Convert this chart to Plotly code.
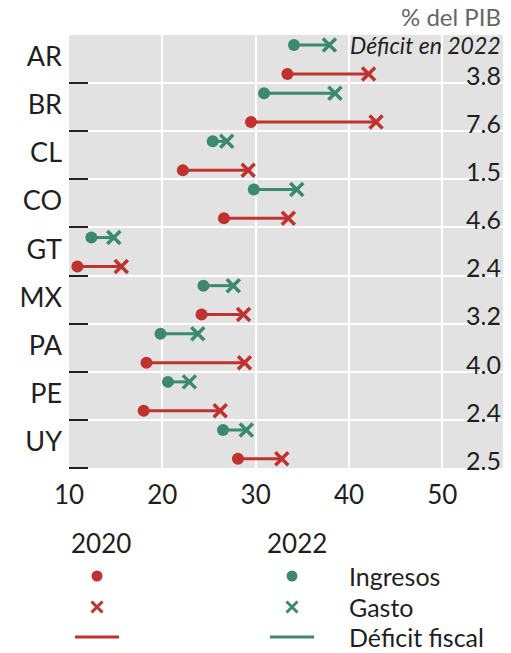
import plotly.graph_objects as go

countries = ["AR", "BR", "CL", "CO", "GT", "MX", "PA", "PE", "UY"]
ing_2022 = [34.1, 30.9, 25.4, 29.8, 12.4, 24.4, 19.8, 20.6, 26.5]
gas_2022 = [37.9, 38.5, 26.9, 34.4, 14.8, 27.6, 23.8, 22.9, 29.0]
ing_2020 = [33.4, 29.5, 22.2, 26.6, 10.9, 24.2, 18.3, 18.0, 28.1]
gas_2020 = [42.1, 42.9, 29.2, 33.5, 15.6, 28.7, 28.8, 26.2, 32.8]
deficit_2022 = ["3.8", "7.6", "1.5", "4.6", "2.4", "3.2", "4.0", "2.4", "2.5"]
x_ticks = [10, 20, 30, 40, 50]

RED = "#c0322f"
GREEN = "#3b8a6e"
TEXT = "#1f1f1f"
FONT = "Lato"

W, H = 511, 653
ML, MR, MT, MB = 69, 8, 35, 5
PH = H - MT - MB
main_bottom_px = 468
d_main = (H - MB - main_bottom_px) / PH

OFF_G, OFF_R, OFF_LBL = 0.21, 0.81, 0.45
n = len(countries)
y_g = [i + OFF_G for i in range(n)]
y_r = [i + OFF_R for i in range(n)]


def seg(a, b, ys):
    xs, yy = [], []
    for x0, x1, y in zip(a, b, ys):
        xs += [x0, x1, None]
        yy += [y, y, None]
    return xs, yy


fig = go.Figure()
for a, b, ys, col in [(ing_2022, gas_2022, y_g, GREEN), (ing_2020, gas_2020, y_r, RED)]:
    xs, yy = seg(a, b, ys)
    fig.add_trace(go.Scatter(x=xs, y=yy, mode="lines", line=dict(color=col, width=3),
                             showlegend=False, hoverinfo="skip"))
    fig.add_trace(go.Scatter(x=a, y=ys, mode="markers",
                             marker=dict(symbol="circle", size=12, color=col), showlegend=False))
    fig.add_trace(go.Scatter(x=b, y=ys, mode="markers",
                             marker=dict(symbol="x-thin", size=13, color=col,
                                         line=dict(color=col, width=3.5)), showlegend=False))

# legend block on a hidden pixel-space axis
leg_rows = [576, 607, 637]
leg_cols = [97, 292]
leg_colors = [RED, GREEN]
for cx, col in zip(leg_cols, leg_colors):
    fig.add_trace(go.Scatter(x=[cx], y=[leg_rows[0]], xaxis="x2", yaxis="y2", mode="markers",
                             marker=dict(symbol="circle", size=11, color=col), showlegend=False))
    fig.add_trace(go.Scatter(x=[cx], y=[leg_rows[1]], xaxis="x2", yaxis="y2", mode="markers",
                             marker=dict(symbol="x-thin", size=11, color=col,
                                         line=dict(color=col, width=3)), showlegend=False))
    fig.add_trace(go.Scatter(x=[cx - 22, cx + 22], y=[leg_rows[2]] * 2, xaxis="x2", yaxis="y2",
                             mode="lines", line=dict(color=col, width=3), showlegend=False))

annotations = []
for i, v in enumerate(deficit_2022):
    annotations.append(dict(x=1.0, xref="paper", y=y_r[i] + 0.02, yref="y", text=v, showarrow=False,
                            xanchor="right", yanchor="middle",
                            font=dict(family=FONT, size=25, color=TEXT)))
annotations.append(dict(x=1.0, xref="paper", y=y_g[0], yref="y", text="<i>Déficit en 2022</i>",
                        showarrow=False, xanchor="right", yanchor="middle",
                        font=dict(family=FONT, size=23, color=TEXT)))
annotations.append(dict(x=1.0, xref="paper", y=(H - MB - 17) / PH, yref="paper", text="% del PIB",
                        showarrow=False, xanchor="right", yanchor="middle",
                        font=dict(family=FONT, size=24, color="#666666")))
for cx, t in zip([101, 297], ["2020", "2022"]):
    annotations.append(dict(x=cx, xref="x2", y=543, yref="y2", text=t, showarrow=False,
                            xanchor="center", yanchor="middle",
                            font=dict(family=FONT, size=26, color=TEXT)))
for ry, t in zip(leg_rows, ["Ingresos", "Gasto", "Déficit fiscal"]):
    annotations.append(dict(x=347, xref="x2", y=ry, yref="y2", text=t, showarrow=False,
                            xanchor="left", yanchor="middle",
                            font=dict(family=FONT, size=25, color=TEXT)))

fig.update_layout(
    width=W, height=H,
    margin=dict(l=ML, r=MR, t=MT, b=MB, autoexpand=False),
    paper_bgcolor="white",
    plot_bgcolor="white",
    font=dict(family=FONT, color=TEXT),
    showlegend=False,
    shapes=[dict(type="rect", xref="x domain", yref="y domain", x0=0, x1=1, y0=0, y1=1,
                 fillcolor="#e2e2e2", line=dict(width=0), layer="below")],
    xaxis=dict(range=[10, 56.5], tickvals=x_ticks, showgrid=False, zeroline=False,
               ticks="", tickfont=dict(size=26, color=TEXT), ticklabelstandoff=9,
               minor=dict(tickvals=x_ticks[1:], showgrid=True, gridcolor="white", gridwidth=2),
               domain=[0, 1], anchor="y", fixedrange=True, automargin=False),
    yaxis=dict(range=[n, 0], tickvals=[i + OFF_LBL for i in range(n)],
               ticktext=countries, showgrid=False, zeroline=False, ticks="",
               tickfont=dict(size=27, color=TEXT), ticklabelstandoff=6,
               minor=dict(tickvals=list(range(1, n + 1)), showgrid=True, gridcolor="white",
                          gridwidth=2, ticks="inside", ticklen=19, tickwidth=2,
                          tickcolor="#222222"),
               domain=[d_main, 1], anchor="x", fixedrange=True, automargin=False),
    xaxis2=dict(range=[ML, W - MR], domain=[0, 1], anchor="y2", visible=False, fixedrange=True),
    yaxis2=dict(range=[H - MB, main_bottom_px + 30],
                domain=[0, (H - MB - (main_bottom_px + 30)) / PH],
                anchor="x2", visible=False, fixedrange=True),
    annotations=annotations,
)

fig.write_html("out.html", config={"displayModeBar": False},
               post_script="document.body.style.margin='0px';")
